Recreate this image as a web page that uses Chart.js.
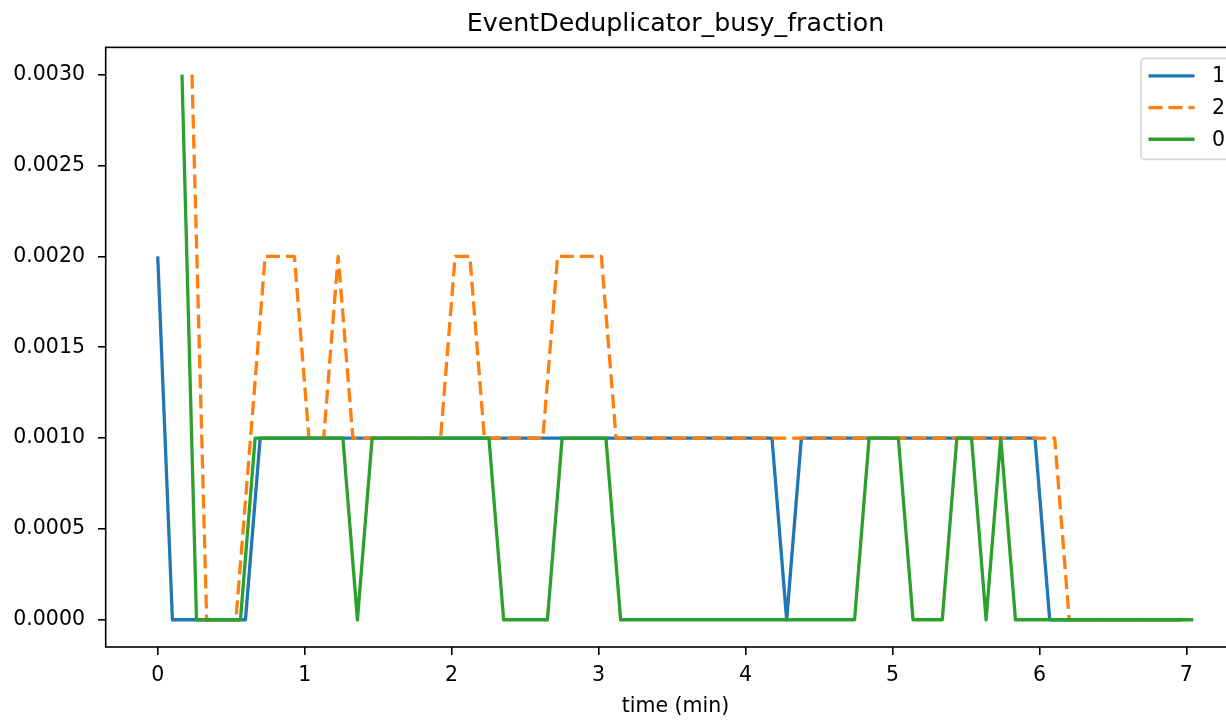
<!DOCTYPE html>
<html><head><meta charset="utf-8">
<script src="https://cdn.jsdelivr.net/npm/chart.js@4"></script>
<style>
html,body{margin:0;padding:0;overflow:hidden;background:#fff;width:1226px;height:721px}
#wrap{position:absolute;left:0;top:0;width:1250px;height:721px}
</style>
</head><body><div id="wrap"><canvas id="c" width="1250" height="721"></canvas></div>
<script>
// ---- data ----
const chartTitle = 'EventDeduplicator_busy_fraction';
const xAxisLabel = 'time (min)';
const xTicks = [0, 1, 2, 3, 4, 5, 6, 7];
const yTicks = [0, 0.0005, 0.001, 0.0015, 0.002, 0.0025, 0.003];
const seriesLabels = ['1', '2', '0'];

// series "1"
const time1 = [0, 0.10, 0.597, 0.697, 4.18, 4.28, 4.38, 5.97, 6.07, 6.97];
const busy1 = [0.002, 0, 0, 0.001, 0.001, 0, 0.001, 0.001, 0, 0];

// series "2"
const time2 = [0.233, 0.333, 0.532, 0.731, 0.930, 1.029, 1.129, 1.228, 1.328, 1.925, 2.024, 2.124, 2.223, 2.621, 2.721, 3.019, 3.119, 6.104, 6.203, 7.00];
const busy2 = [0.003, 0, 0, 0.002, 0.002, 0.001, 0.001, 0.002, 0.001, 0.001, 0.002, 0.002, 0.001, 0.001, 0.002, 0.002, 0.001, 0.001, 0, 0];

// series "0"
const time0 = [0.165, 0.264, 0.563, 0.663, 1.260, 1.359, 1.459, 2.254, 2.354, 2.652, 2.752, 3.050, 3.150, 4.742, 4.841, 5.040, 5.140, 5.339, 5.438, 5.538, 5.637, 5.737, 5.837, 7.047];
const busy0 = [0.003, 0, 0, 0.001, 0.001, 0, 0.001, 0.001, 0, 0, 0.001, 0.001, 0, 0, 0.001, 0.001, 0, 0, 0.001, 0.001, 0, 0.001, 0, 0];

const colors = ['#1f77b4', '#ff7f0e', '#2ca02c'];
const FONT = 'DejaVu Sans';

function pts(ts, vs) { return ts.map((t, i) => ({ x: t, y: vs[i] })); }

const frameAndLegend = {
  id: 'frameAndLegend',
  afterDraw(chart) {
    const ctx = chart.ctx, a = chart.chartArea;
    ctx.save();
    ctx.strokeStyle = '#000';
    ctx.lineWidth = 1.6;
    ctx.strokeRect(a.left - 0.3, a.top, a.right - a.left, a.bottom - a.top);
    // legend
    const bx = a.right - 104, by = a.top + 11, bw = 94, bh = 101, r = 4;
    ctx.beginPath();
    ctx.moveTo(bx + r, by);
    ctx.lineTo(bx + bw - r, by); ctx.arcTo(bx + bw, by, bx + bw, by + r, r);
    ctx.lineTo(bx + bw, by + bh - r); ctx.arcTo(bx + bw, by + bh, bx + bw - r, by + bh, r);
    ctx.lineTo(bx + r, by + bh); ctx.arcTo(bx, by + bh, bx, by + bh - r, r);
    ctx.lineTo(bx, by + r); ctx.arcTo(bx, by, bx + r, by, r);
    ctx.closePath();
    ctx.fillStyle = 'rgba(255,255,255,0.8)';
    ctx.fill();
    ctx.strokeStyle = '#d6d6d6';
    ctx.lineWidth = 1.6;
    ctx.stroke();
    const order = [2, 1, 0]; // dataset indices for legend rows "1","2","0"
    const ds = chart.data.datasets;
    ctx.font = '20.5px "' + FONT + '"';
    ctx.textBaseline = 'middle';
    ctx.textAlign = 'left';
    order.forEach((di, row) => {
      const d = ds[di];
      const y = by + 17.5 + row * 31.7;
      ctx.beginPath();
      ctx.strokeStyle = d.borderColor;
      ctx.lineWidth = 3.3;
      ctx.setLineDash(d.borderDash || []);
      ctx.moveTo(bx + 7.5, y);
      ctx.lineTo(bx + 53.5, y);
      ctx.stroke();
      ctx.setLineDash([]);
      ctx.fillStyle = '#000';
      ctx.fillText(d.label, bx + 71, y + 1);
    });
    ctx.restore();
  }
};

new Chart(document.getElementById('c'), {
  type: 'line',
  data: {
    datasets: [
      { label: seriesLabels[2], data: pts(time0, busy0), borderColor: colors[2], order: 1 },
      { label: seriesLabels[1], data: pts(time2, busy2), borderColor: colors[1], borderDash: [14, 6], order: 2 },
      { label: seriesLabels[0], data: pts(time1, busy1), borderColor: colors[0], order: 3 }
    ]
  },
  options: {
    responsive: false,
    animation: false,
    events: [],
    layout: { padding: { left: 0, right: 5, top: 0, bottom: 0 } },
    elements: {
      point: { radius: 0 },
      line: { borderWidth: 3.3, tension: 0, borderJoinStyle: 'round', borderCapStyle: 'butt', fill: false }
    },
    plugins: {
      legend: { display: false },
      tooltip: { enabled: false },
      title: {
        display: true, text: chartTitle, fullSize: false, color: '#000',
        font: { family: FONT, size: 25.3, weight: 'normal', lineHeight: 1.2 },
        padding: { top: 9, bottom: 8 }
      }
    },
    scales: {
      x: {
        type: 'linear', min: -0.352, max: 7.399,
        afterBuildTicks: s => { s.ticks = xTicks.map(v => ({ value: v })); },
        afterFit: s => { s.height = 74; },
        ticks: { color: '#000', padding: 8, maxRotation: 0, autoSkip: false,
          font: { family: FONT, size: 20.5 }, callback: v => String(v) },
        grid: { drawOnChartArea: false, drawTicks: true, tickLength: 8, color: '#000', lineWidth: 1.6 },
        border: { display: false },
        title: { display: true, text: xAxisLabel, color: '#000',
          font: { family: FONT, size: 20.5, lineHeight: 1.2 }, padding: { top: 2, bottom: 2 } }
      },
      y: {
        type: 'linear', min: -0.00015, max: 0.00315,
        afterBuildTicks: s => { s.ticks = yTicks.map(v => ({ value: v })); },
        afterFit: s => { s.width = 106; },
        ticks: { color: '#000', padding: 13, autoSkip: false,
          font: { family: FONT, size: 20.5 }, callback: v => Number(v).toFixed(4) },
        grid: { drawOnChartArea: false, drawTicks: true, tickLength: 8, color: '#000', lineWidth: 1.6 },
        border: { display: false }
      }
    }
  },
  plugins: [frameAndLegend]
});
</script>
</body></html>
